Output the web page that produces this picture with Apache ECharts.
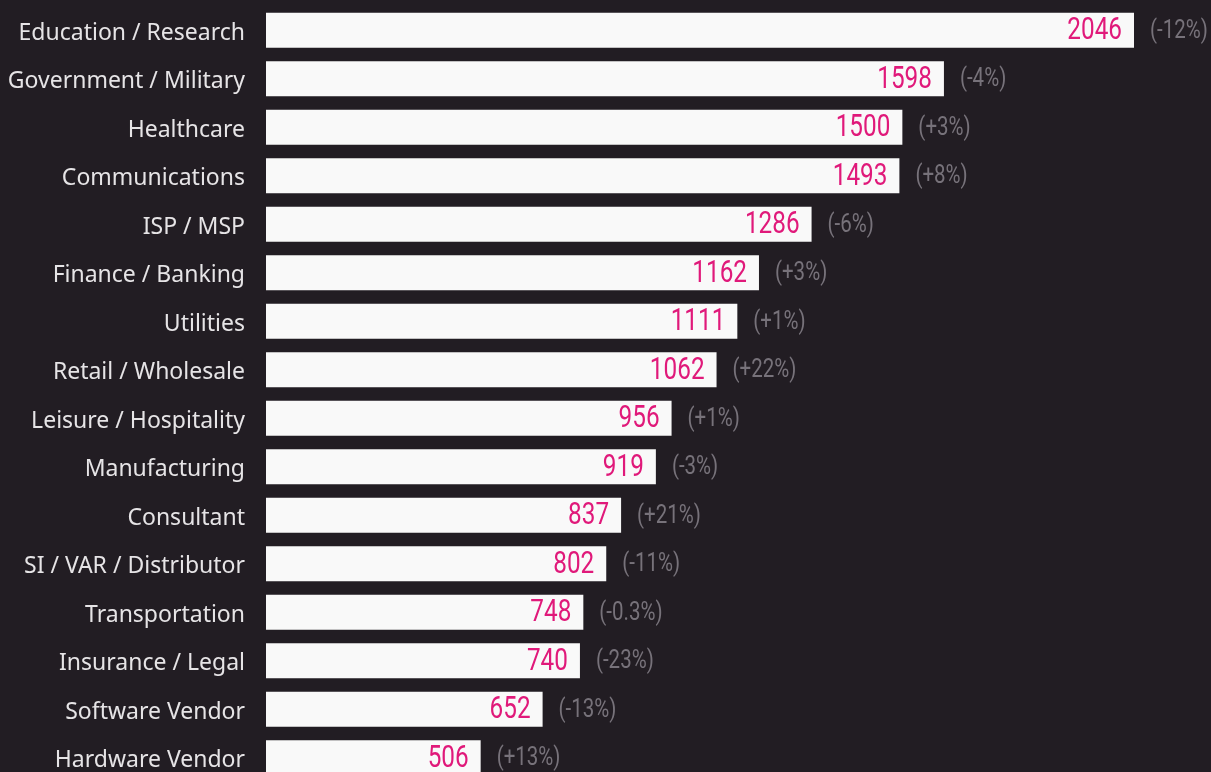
<!DOCTYPE html>
<html>
<head>
<meta charset="utf-8">
<script src="https://cdn.jsdelivr.net/npm/echarts@6/dist/echarts.min.js"></script>
<style>
  html, body { margin: 0; padding: 0; background: #221d23; }
  #chart { width: 1211px; height: 772px; }
</style>
</head>
<body>
<div id="chart"></div>
<script>
// 行业分类（从上到下）
const categories = [
  'Education / Research', 'Government / Military', 'Healthcare', 'Communications',
  'ISP / MSP', 'Finance / Banking', 'Utilities', 'Retail / Wholesale',
  'Leisure / Hospitality', 'Manufacturing', 'Consultant', 'SI / VAR / Distributor',
  'Transportation', 'Insurance / Legal', 'Software Vendor', 'Hardware Vendor'
]
const values = [2046, 1598, 1500, 1493, 1286, 1162, 1111, 1062, 956, 919, 837, 802, 748, 740, 652, 506]
const changes = ['-12%', '-4%', '+3%', '+8%', '-6%', '+3%', '+1%', '+22%', '+1%', '-3%', '+21%', '-11%', '-0.3%', '-23%', '-13%', '+13%']

const chart = echarts.init(document.getElementById('chart'))

// 标签用自定义系列画，方便把字体横向压窄（没有窄体字体可用）
function renderLabels (params, api) {
  const idx = api.value(1)
  const v = api.value(0)
  const end = api.coord([v, idx])
  return {
    type: 'group',
    children: [
      {
        type: 'text',
        x: end[0] - 12,
        y: end[1] + 1,
        scaleX: 0.76,
        style: {
          text: String(v),
          fill: '#e0197a',
          font: '32px Roboto, sans-serif',
          align: 'right',
          verticalAlign: 'middle'
        }
      },
      {
        type: 'text',
        x: end[0] + 16,
        y: end[1] + 1,
        scaleX: 0.82,
        style: {
          text: '(' + changes[idx] + ')',
          fill: '#77727a',
          font: '25px Roboto, sans-serif',
          align: 'left',
          verticalAlign: 'middle'
        }
      }
    ]
  }
}

const option = {
  backgroundColor: '#221d23',
  animation: false,
  grid: {
    left: 266,
    top: 6,
    width: 868,
    height: 776,
    outerBoundsMode: 'none'
  },
  xAxis: {
    type: 'value',
    min: 0,
    max: 2046,
    show: false
  },
  yAxis: {
    type: 'category',
    data: categories,
    inverse: true,
    axisLine: { show: false },
    axisTick: { show: false },
    axisLabel: {
      margin: 21,
      formatter: (name) => '{c|' + name + '}',
      rich: {
        c: {
          color: '#e6e4e6',
          fontSize: 23,
          fontFamily: '"Noto Sans", sans-serif',
          padding: [6, 0, 0, 0]
        }
      }
    }
  },
  series: [
    {
      type: 'bar',
      data: values,
      barCategoryGap: '28%',
      itemStyle: { color: '#f9f9f9' }
    },
    {
      type: 'custom',
      renderItem: renderLabels,
      data: values.map((v, i) => [v, i]),
      encode: { x: 0, y: 1 },
      z: 5
    }
  ]
}
chart.setOption(option)
</script>
</body>
</html>
